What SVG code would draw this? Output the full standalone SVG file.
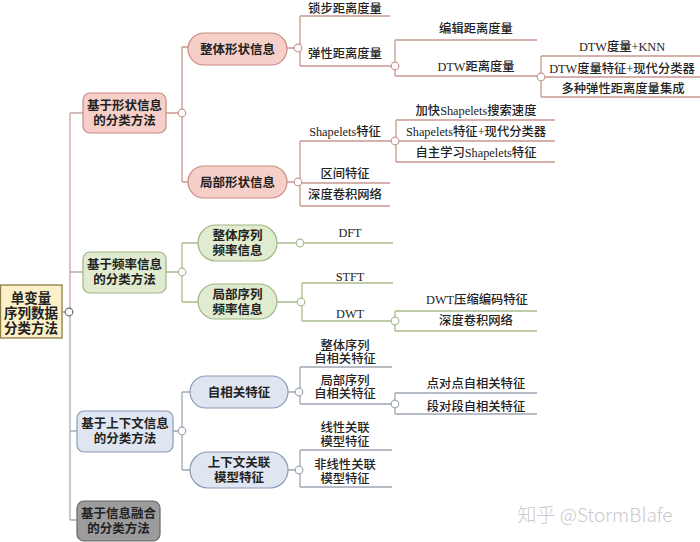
<svg xmlns="http://www.w3.org/2000/svg" width="700" height="542" viewBox="0 0 700 542">
<style>
text{font-family:"Liberation Serif","Noto Sans CJK SC",serif;fill:#222;text-anchor:middle}
.n{font-size:12.5px;font-weight:bold}
.r{font-size:13.5px;font-weight:bold}
.l{font-size:12.3px;font-weight:500}
.ls,.lf,.lc,.lm,.lg{fill:none;stroke-width:1.3}
.ls{stroke:#c99890}
.lf{stroke:#a9bc8e}
.lc{stroke:#9ea6b4}
.lm{stroke:#c4a6a2}
.lg{stroke:#a9aeb6}
.cs,.cf,.cc,.cr{fill:#fff;stroke-width:1.2}
.cs{stroke:#c99890}.cf{stroke:#a9bc8e}.cc{stroke:#9ea6b4}.cr{stroke:#6a6a6a}
.bs{fill:#f6d0c8;stroke:#c78a80;stroke-width:1.2}
.bf{fill:#e0ebcf;stroke:#9fb584;stroke-width:1.2}
.bc{fill:#dfe5f1;stroke:#8c9ab6;stroke-width:1.2}
</style>
<g id="connectors">
<path class="lm" d="M62 312H70M70 113V312M70 113H83M70 272H83"/>
<path class="lg" d="M70 312V520M70 431H77M70 520H77"/>
<path class="ls" d="M166 113H182M182 47V182M182 47H188M182 182H188"/>
<path class="ls" d="M287 48H300M300 16V66M300 16H390M300 66H395"/>
<path class="ls" d="M395 40V76M395 40H537M395 76H541M541 56V97M541 56H700M541 77H700M541 97H700"/>
<path class="ls" d="M287 182H300M300 141V206M300 141H396M300 183H390M300 206H390"/>
<path class="ls" d="M396 120V162M396 120H555M396 141H555M396 162H555"/>
<path class="lf" d="M166 272H182M182 243V302M182 243H198M182 302H198"/>
<path class="lf" d="M277 243H393M277 302H302M302 283V321M302 283H393M302 321H395"/>
<path class="lf" d="M395 311V331M395 311H537M395 331H537"/>
<path class="lc" d="M173 431H182M182 392V470M182 392H190M182 470H190"/>
<path class="lc" d="M288 392H300M300 367V404M300 367H392M300 404H395M395 393V414M395 393H537M395 414H537"/>
<path class="lc" d="M288 470H300M300 450V487M300 450H392M300 487H392"/>
<circle class="cr" cx="69" cy="312" r="3.8"/>
<circle class="cs" cx="182" cy="113" r="3.8"/>
<circle class="cs" cx="298" cy="48" r="3.8"/>
<circle class="cs" cx="395" cy="66" r="3.8"/>
<circle class="cs" cx="541" cy="77" r="3.8"/>
<circle class="cs" cx="298" cy="182" r="3.8"/>
<circle class="cs" cx="395" cy="141" r="3.8"/>
<circle class="cf" cx="182" cy="272" r="3.8"/>
<circle class="cf" cx="300" cy="243" r="3.8"/>
<circle class="cf" cx="301" cy="302" r="3.8"/>
<circle class="cf" cx="395" cy="321" r="3.8"/>
<circle class="cc" cx="182" cy="431" r="3.8"/>
<circle class="cc" cx="299" cy="392" r="3.8"/>
<circle class="cc" cx="395" cy="404" r="3.8"/>
<circle class="cc" cx="299" cy="470" r="3.8"/>
</g>
<g id="root">
<rect x="0.5" y="285" width="61.5" height="53" fill="#fbf0c8" stroke="#8b7d45" stroke-width="1.3"/>
<text class="r" x="31" y="302.5">单变量</text>
<text class="r" x="31" y="317.5">序列数据</text>
<text class="r" x="31" y="332.5">分类方法</text>
</g>
<g id="shape">
<rect class="bs" x="83" y="93" width="83" height="40" rx="7"/>
<text class="n" x="124.5" y="110">基于形状信息</text>
<text class="n" x="124.5" y="125">的分类方法</text>
</g>
<g id="shape-global">
<rect class="bs" x="188" y="33" width="99" height="32" rx="16"/>
<text class="n" x="237.5" y="53.5">整体形状信息</text>
</g>
<g id="shape-local">
<rect class="bs" x="188" y="166" width="99" height="32" rx="16"/>
<text class="n" x="237.5" y="186.5">局部形状信息</text>
</g>
<g id="freq">
<rect class="bf" x="83" y="252" width="83" height="41" rx="7"/>
<text class="n" x="124.5" y="269">基于频率信息</text>
<text class="n" x="124.5" y="284">的分类方法</text>
</g>
<g id="freq-global">
<rect class="bf" x="198" y="225" width="79" height="36" rx="18"/>
<text class="n" x="237.5" y="240">整体序列</text>
<text class="n" x="237.5" y="255">频率信息</text>
</g>
<g id="freq-local">
<rect class="bf" x="198" y="284" width="79" height="35" rx="17.5"/>
<text class="n" x="237.5" y="299">局部序列</text>
<text class="n" x="237.5" y="314">频率信息</text>
</g>
<g id="ctx">
<rect class="bc" x="77" y="411" width="96" height="41" rx="7"/>
<text class="n" x="125" y="428">基于上下文信息</text>
<text class="n" x="125" y="443">的分类方法</text>
</g>
<g id="ctx-auto">
<rect class="bc" x="190" y="376" width="98" height="32" rx="16"/>
<text class="n" x="239" y="396.5">自相关特征</text>
</g>
<g id="ctx-model">
<rect class="bc" x="190" y="452" width="98" height="36" rx="18"/>
<text class="n" x="239" y="467">上下文关联</text>
<text class="n" x="239" y="482">模型特征</text>
</g>
<g id="fusion">
<rect x="77" y="501" width="83" height="40" rx="7" fill="#9c9c9c" stroke="#666" stroke-width="1.2"/>
<text class="n" x="118.5" y="518">基于信息融合</text>
<text class="n" x="118.5" y="533">的分类方法</text>
</g>
<g id="leaves">
<text class="l" x="345" y="12.5">锁步距离度量</text>
<text class="l" x="345" y="57.5">弹性距离度量</text>
<text class="l" x="476" y="32.5">编辑距离度量</text>
<text class="l" x="476" y="70.5">DTW距离度量</text>
<text class="l" x="622" y="50.5">DTW度量+KNN</text>
<text class="l" x="622" y="72.5">DTW度量特征+现代分类器</text>
<text class="l" x="623" y="92.5">多种弹性距离度量集成</text>
<text class="l" x="345" y="135.5">Shapelets特征</text>
<text class="l" x="345" y="177.5">区间特征</text>
<text class="l" x="345" y="198.5">深度卷积网络</text>
<text class="l" x="476" y="114.5">加快Shapelets搜索速度</text>
<text class="l" x="476" y="135.5">Shapelets特征+现代分类器</text>
<text class="l" x="476" y="156.5">自主学习Shapelets特征</text>
<text class="l" x="350" y="236.5">DFT</text>
<text class="l" x="350" y="280.5">STFT</text>
<text class="l" x="350" y="317.5">DWT</text>
<text class="l" x="477" y="303.5">DWT压缩编码特征</text>
<text class="l" x="476" y="324.5">深度卷积网络</text>
<text class="l" x="345" y="349.5">整体序列</text>
<text class="l" x="345" y="362.5">自相关特征</text>
<text class="l" x="345" y="384.5">局部序列</text>
<text class="l" x="345" y="397.5">自相关特征</text>
<text class="l" x="476" y="387.5">点对点自相关特征</text>
<text class="l" x="476" y="410.5">段对段自相关特征</text>
<text class="l" x="345" y="431.5">线性关联</text>
<text class="l" x="345" y="445.5">模型特征</text>
<text class="l" x="345" y="468.5">非线性关联</text>
<text class="l" x="345" y="482.5">模型特征</text>
</g>
<text x="595" y="522" style="font-family:'Noto Sans CJK SC','Noto Sans',sans-serif;font-size:19px;font-weight:300;fill:#cacaca">知乎 @StormBlafe</text>
</svg>
